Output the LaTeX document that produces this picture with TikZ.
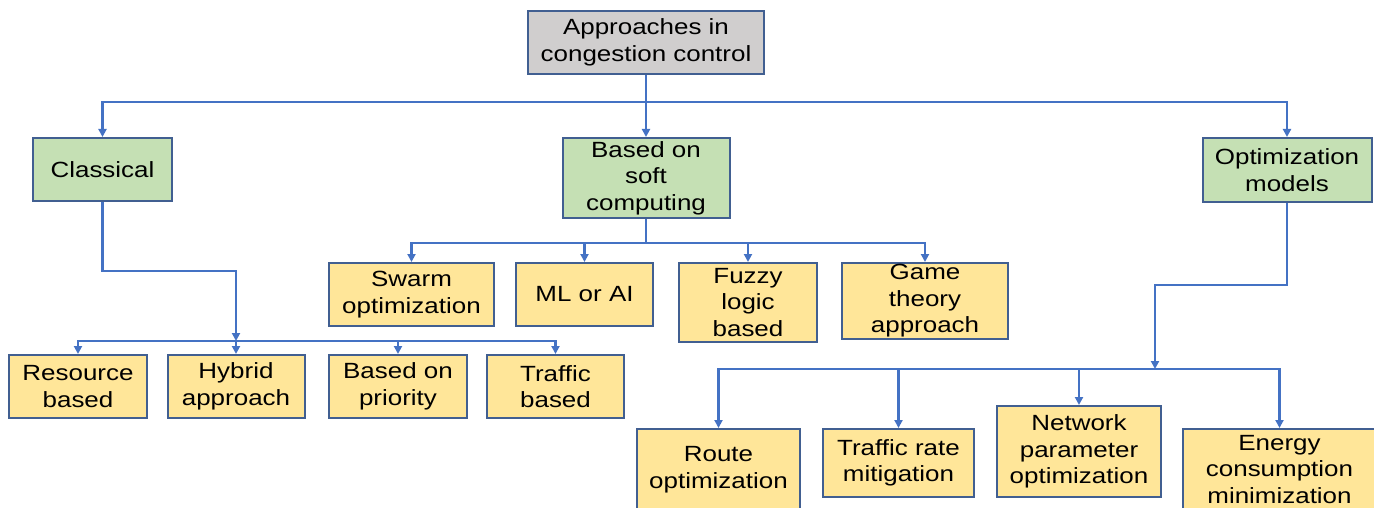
\documentclass[tikz,border=0pt]{standalone}
\usepackage{fontspec}
\setmainfont[FakeStretch=1.18]{Liberation Sans}
\usepackage{tikz}
\usetikzlibrary{arrows.meta}

\definecolor{linkblue}{RGB}{68,114,196}
\definecolor{edgeblue}{RGB}{65,95,145}
\definecolor{rootgray}{RGB}{208,206,206}
\definecolor{catgreen}{RGB}{197,224,180}
\definecolor{leafyellow}{RGB}{255,230,153}

\tikzset{
  basebox/.style={draw=edgeblue, line width=2pt, inner sep=0pt, align=center,
    font=\fontsize{22}{26.5}\selectfont},
  rootbox/.style={basebox, fill=rootgray},
  catbox/.style={basebox, fill=catgreen},
  leafbox/.style={basebox, fill=leafyellow},
  link/.style={draw=linkblue, line width=2.4pt, -{Triangle[length=8pt,width=8pt]}},
  bus/.style={draw=linkblue, line width=2.4pt}
}

\begin{document}
\begin{tikzpicture}[x=1pt,y=-1pt]
\useasboundingbox (0,0) rectangle (1374,508);
\clip (0,0) rectangle (1374,508);

% top level
\node[rootbox, minimum width=236pt, minimum height=63pt] (root) at (646,42.5) {Approaches in\\congestion control};

\node[catbox, minimum width=139pt, minimum height=63pt] (classical) at (102.5,169.5) {Classical};
\node[catbox, minimum width=167pt, minimum height=80pt] (soft) at (646,178) {Based on\\soft\\computing};
\node[catbox, minimum width=169pt, minimum height=64pt] (optim) at (1287,170) {Optimization\\models};

% soft computing
\node[leafbox, minimum width=165pt, minimum height=63pt] (swarm) at (411.5,294.5) {Swarm\\optimization};
\node[leafbox, minimum width=137pt, minimum height=63pt] (mlai) at (584.5,294.5) {ML or AI};
\node[leafbox, minimum width=138pt, minimum height=79pt] (fuzzy) at (748,302.5) {Fuzzy\\logic\\based};
\node[leafbox, minimum width=166pt, minimum height=76pt] (game) at (925,301) {Game\\theory\\approach};

% classical
\node[leafbox, minimum width=138pt, minimum height=63pt] (resource) at (78,386.5) {Resource\\based};
\node[leafbox, minimum width=137pt, minimum height=63pt] (hybrid) at (236,386.5) {Hybrid\\approach};
\node[leafbox, minimum width=138pt, minimum height=63pt] (priority) at (398,386.5) {Based on\\priority};
\node[leafbox, minimum width=137pt, minimum height=63pt] (trafficb) at (555.5,386.5) {Traffic\\based};

% optimization
\node[leafbox, minimum width=163pt, minimum height=81pt] (route) at (718.5,469.5) {Route\\optimization};
\node[leafbox, minimum width=151pt, minimum height=68pt] (rate) at (898.5,463) {Traffic rate\\mitigation};
\node[leafbox, minimum width=164pt, minimum height=91pt] (network) at (1079,451.5) {Network\\parameter\\optimization};
\node[leafbox, minimum width=193pt, minimum height=81pt] (energy) at (1279.5,469.5) {Energy\\consumption\\minimization};

% connectors
\coordinate (topbus) at (646,102);
\coordinate (clbus) at (236,341);
\coordinate (sfbus) at (646,243);
\coordinate (opbus) at (1155,369);

\draw[link] (root) -- (soft);
\draw[link] (topbus) -| (classical.north);
\draw[link] (topbus) -| (optim.north);

\draw[link] (classical.south) -- (classical.south |- 0,271) -| (clbus);
\draw[link] (clbus) -| (resource.north);
\draw[link] (clbus) -- (hybrid.north);
\draw[link] (clbus) -| (priority.north);
\draw[link] (clbus) -| (trafficb.north);

\draw[bus] (soft.south) -- (sfbus);
\draw[link] (sfbus) -| (swarm.north);
\draw[link] (sfbus) -| (mlai.north);
\draw[link] (sfbus) -| (fuzzy.north);
\draw[link] (sfbus) -| (game.north);

\draw[link] (optim.south) -- (optim.south |- 0,285) -| (opbus);
\draw[link] (opbus) -| (route.north);
\draw[link] (opbus) -| (rate.north);
\draw[link] (opbus) -| (network.north);
\draw[link] (opbus) -| (energy.north);
\end{tikzpicture}
\end{document}
